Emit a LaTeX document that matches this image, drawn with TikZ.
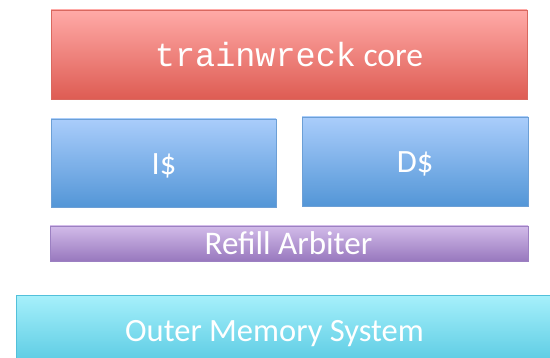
\documentclass[tikz,border=0pt]{standalone}
\usepackage{fontspec}
\setmainfont{Carlito}
\newfontfamily\courfont{Liberation Mono}
\usetikzlibrary{shadows}
\definecolor{redtop}{HTML}{FFAAA7}
\definecolor{redbot}{HTML}{DE5C53}
\definecolor{redline}{HTML}{D9685F}
\definecolor{bluetop}{HTML}{AACDFB}
\definecolor{bluebot}{HTML}{5396D7}
\definecolor{blueline}{HTML}{6C9FD6}
\definecolor{purtop}{HTML}{D2BBE9}
\definecolor{purbot}{HTML}{9878BE}
\definecolor{purline}{HTML}{9C80C2}
\definecolor{cyantop}{HTML}{A6F0FB}
\definecolor{cyanbot}{HTML}{55C8E1}
\definecolor{cyanline}{HTML}{52C0DA}
\tikzset{
  blk/.style={rectangle, line width=0.8pt, inner sep=0pt,
    drop shadow={shadow xshift=0pt, shadow yshift=-1.5pt, opacity=0.25, fill=black!60}},
  redblk/.style={blk, draw=redline, top color=redtop, bottom color=redbot},
  blueblk/.style={blk, draw=blueline, top color=bluetop, bottom color=bluebot},
  purblk/.style={blk, draw=purline, top color=purtop, bottom color=purbot},
  cyanblk/.style={blk, draw=cyanline, top color=cyantop, bottom color=cyanbot},
  lbl/.style={text=white, inner sep=0pt, anchor=base},
  bigtxt/.style={lbl, font=\fontsize{32.5}{36}\selectfont},
}
\begin{document}
\begin{tikzpicture}[x=1pt,y=-1pt]
\useasboundingbox (0,0) rectangle (550,358);
\node[redblk, minimum width=476pt, minimum height=89pt] (core) at (289,54.5) {};
\node[blueblk, minimum width=225pt, minimum height=88pt] (icache) at (163.5,163) {};
\node[blueblk, minimum width=226pt, minimum height=89pt] (dcache) at (415,161.5) {};
\node[purblk, minimum width=478pt, minimum height=35pt] (refill) at (289,243.5) {};
\node[cyanblk, minimum width=544pt, minimum height=73pt, anchor=north west] (outer) at (16,295) {};
\node[lbl, font=\fontsize{33.5}{36}\selectfont] (coretxt) at (289,67) {{\courfont trainwreck} core};
\node[bigtxt] (itxt) at (164,175) {I\$};
\node[bigtxt] (dtxt) at (415,173) {D\$};
\node[lbl, font=\fontsize{33}{36}\selectfont] (refilltxt) at (288.5,255) {Refill Arbiter};
\node[bigtxt] (outertxt) at (274.5,342) {Outer Memory System};
\end{tikzpicture}
\end{document}
